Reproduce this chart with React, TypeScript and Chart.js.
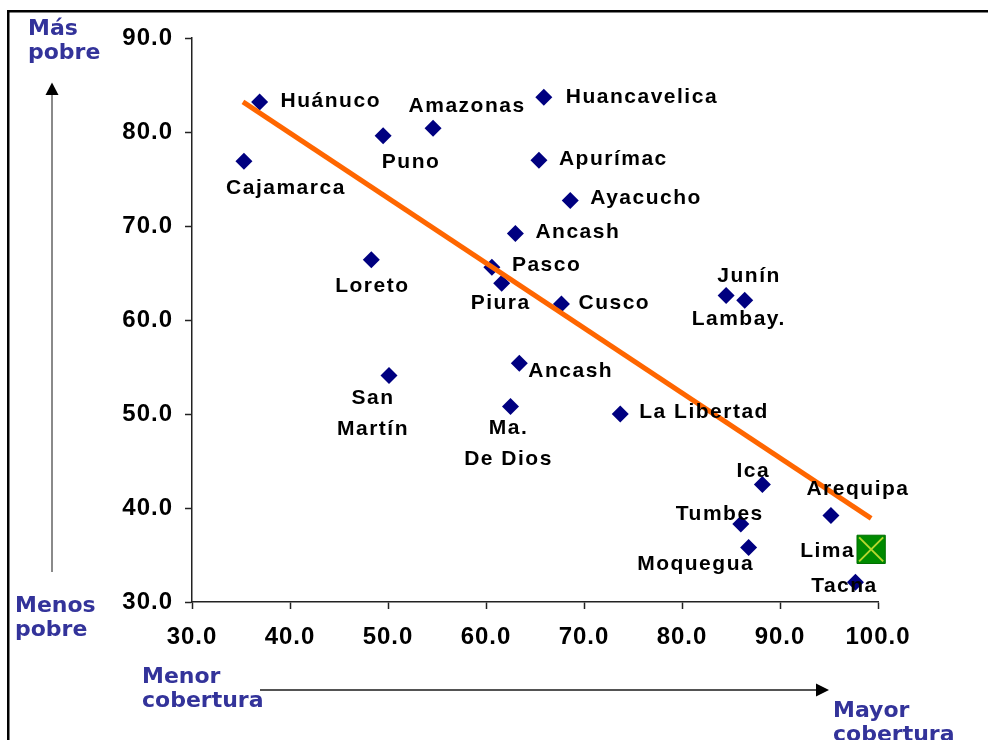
import React, { useEffect, useRef } from 'react';
import { Chart, registerables } from 'chart.js';

Chart.register(...registerables);

// ---- Data ----
const regions = [
  'Huánuco', 'Cajamarca', 'Puno', 'Amazonas', 'Loreto', 'Huancavelica', 'Apurímac',
  'Ayacucho', 'Ancash', 'Pasco', 'Piura', 'Cusco', 'Ancash', 'Ma.\nDe Dios', 'San\nMartín',
  'La Libertad', 'Junín', 'Lambay.', 'Ica', 'Arequipa', 'Tumbes', 'Moquegua', 'Tacna',
];
const coverage = [
  36.9, 35.3, 49.5, 54.6, 48.3, 65.9, 65.4,
  68.6, 63.0, 60.6, 61.6, 67.7, 63.4, 62.5, 50.1,
  73.7, 84.5, 86.4, 88.2, 95.2, 86.0, 86.8, 97.7,
];
const poverty = [
  83.2, 76.9, 79.6, 80.4, 66.4, 83.7, 77.0,
  72.7, 69.2, 65.6, 63.9, 61.7, 55.4, 50.8, 54.1,
  50.0, 62.6, 62.1, 42.5, 39.2, 38.3, 35.8, 32.1,
];
const limaName = 'Lima';
const limaCoverage = [99.3];
const limaPoverty = [35.6];
const trendCoverage = [35.2, 99.3];
const trendPoverty = [83.2, 38.9];
const xMin = 30, xMax = 100, yMin = 30, yMax = 90, tickStep = 10;

// ---- Label placement (style, kept apart from data): [dx, dy, align] ----
const labelOffsets: [number, number, CanvasTextAlign][] = [
  [21, -1, 'left'], [42, 27, 'center'], [28, 26, 'center'], [34, -22, 'center'], [1, 26, 'center'],
  [22, 0, 'left'], [20, -1, 'left'], [20, -2, 'left'], [20, -1, 'left'], [20, -2, 'left'],
  [-1, 20, 'center'], [17, -1, 'left'], [9, 8, 'left'], [-2, 22, 'center'], [-16, 23, 'center'],
  [19, -2, 'left'], [23, -19, 'center'], [-6, 19, 'center'], [-9, -13, 'center'], [27, -26, 'center'],
  [-21, -10, 'center'], [-53, 17, 'center'], [-11, 4, 'center'],
];
const limaOffset: [number, number, CanvasTextAlign] = [-16, 2, 'right'];

const BLUE = '#33339a';
const LABEL_FONT = 'bold 21px "Liberation Sans", Arial, sans-serif';
const BLUE_FONT = 'bold 22px "DejaVu Sans", Verdana, sans-serif';

const decorPlugin = {
  id: 'decor',
  beforeDraw(chart: any) {
    chart.ctx.letterSpacing = '1px';
  },
  afterDatasetsDraw(chart: any) {
    const ctx: CanvasRenderingContext2D = chart.ctx;
    ctx.save();
    ctx.font = LABEL_FONT;
    (ctx as any).letterSpacing = '1.5px';
    ctx.fillStyle = '#000';
    ctx.textBaseline = 'middle';
    const meta = chart.getDatasetMeta(1);
    regions.forEach((name, i) => {
      const pt = meta.data[i];
      if (!pt) return;
      const [dx, dy, align] = labelOffsets[i];
      ctx.textAlign = align;
      name.split('\n').forEach((line, j) => {
        ctx.fillText(line, pt.x + dx, pt.y + dy + j * 31);
      });
    });
    const lm = chart.getDatasetMeta(2).data[0];
    if (lm) {
      ctx.textAlign = limaOffset[2];
      ctx.fillText(limaName, lm.x + limaOffset[0], lm.y + limaOffset[1]);
    }
    ctx.restore();
  },
  afterDraw(chart: any) {
    const ctx: CanvasRenderingContext2D = chart.ctx;
    ctx.save();
    (ctx as any).letterSpacing = '0px';
    // frame (top and left)
    ctx.fillStyle = '#000';
    ctx.fillRect(7, 10, 988 - 7, 2.5);
    ctx.fillRect(7, 10, 2.5, 740 - 10);

    // vertical arrow
    ctx.strokeStyle = '#8a8a8a';
    ctx.lineWidth = 2;
    ctx.beginPath();
    ctx.moveTo(52, 94);
    ctx.lineTo(52, 572);
    ctx.stroke();
    ctx.fillStyle = '#000';
    ctx.beginPath();
    ctx.moveTo(52, 82.5);
    ctx.lineTo(45.5, 95);
    ctx.lineTo(58.5, 95);
    ctx.closePath();
    ctx.fill();

    // horizontal arrow
    ctx.strokeStyle = '#1a1a1a';
    ctx.lineWidth = 1.5;
    ctx.beginPath();
    ctx.moveTo(260, 690);
    ctx.lineTo(818, 690);
    ctx.stroke();
    ctx.beginPath();
    ctx.moveTo(829, 690);
    ctx.lineTo(816, 683.5);
    ctx.lineTo(816, 696.5);
    ctx.closePath();
    ctx.fill();

    // blue annotations
    ctx.fillStyle = BLUE;
    ctx.font = BLUE_FONT;
    ctx.textAlign = 'left';
    ctx.textBaseline = 'alphabetic';
    ctx.fillText('Más', 28, 35);
    ctx.fillText('pobre', 28, 59);
    ctx.fillText('Menos', 15, 612);
    ctx.fillText('pobre', 15, 636);
    ctx.fillText('Menor', 142, 683);
    ctx.fillText('cobertura', 142, 707);
    ctx.fillText('Mayor', 833, 717);
    ctx.fillText('cobertura', 833, 741);
    ctx.restore();
  },
};

export default function App() {
  const canvasRef = useRef<HTMLCanvasElement>(null);

  useEffect(() => {
    if (!canvasRef.current) return;
    const pts = coverage.map((x, i) => ({ x, y: poverty[i] }));
    const lima = limaCoverage.map((x, i) => ({ x, y: limaPoverty[i] }));
    const trend = trendCoverage.map((x, i) => ({ x, y: trendPoverty[i] }));
    const axisColor = '#222';
    const tickFont = { family: '"Liberation Sans", Arial, sans-serif', size: 24, weight: 'bold' as const };

    const chart = new Chart(canvasRef.current, {
      type: 'scatter',
      data: {
        datasets: [
          {
            type: 'line',
            data: trend,
            borderColor: '#FF6600',
            borderWidth: 5,
            pointRadius: 0,
            borderCapStyle: 'butt',
            fill: false,
            clip: false,
            order: 0,
          } as any,
          {
            data: pts,
            pointStyle: 'rectRot',
            pointRadius: 8.5,
            backgroundColor: '#000080',
            borderColor: '#000080',
            borderWidth: 0,
            clip: false,
            order: 2,
          } as any,
          {
            data: lima,
            pointStyle: 'rect',
            pointRadius: 20,
            backgroundColor: '#008a00',
            borderColor: '#007000',
            borderWidth: 1,
            clip: false,
            order: 1,
          } as any,
          {
            data: lima,
            pointStyle: 'crossRot',
            pointRadius: 17,
            backgroundColor: '#b5d62e',
            borderColor: '#b5d62e',
            borderWidth: 2,
            clip: false,
            order: 0.5,
          } as any,
        ],
      },
      options: {
        animation: false,
        responsive: false,
        devicePixelRatio: 1,
        layout: { padding: { top: 38, right: 110, left: 0, bottom: 0 } },
        plugins: {
          legend: { display: false },
          tooltip: { enabled: false },
          title: { display: false },
        },
        scales: {
          x: {
            type: 'linear',
            min: xMin,
            max: xMax,
            afterFit: (s: any) => { s.height = 138; },
            ticks: {
              stepSize: tickStep,
              color: '#000',
              font: tickFont,
              padding: 14,
              maxRotation: 0,
              callback: (v: any) => Number(v).toFixed(1),
            },
            grid: { drawOnChartArea: false, drawTicks: true, tickLength: 7, tickColor: axisColor, tickWidth: 1.5 },
            border: { display: true, color: axisColor, width: 1.5 },
          },
          y: {
            type: 'linear',
            min: yMin,
            max: yMax,
            afterFit: (s: any) => { s.width = 192; },
            ticks: {
              stepSize: tickStep,
              color: '#000',
              font: tickFont,
              padding: 12,
              callback: (v: any) => Number(v).toFixed(1),
            },
            grid: { drawOnChartArea: false, drawTicks: true, tickLength: 7, tickColor: axisColor, tickWidth: 1.5 },
            border: { display: true, color: axisColor, width: 1.5 },
          },
        },
      },
      plugins: [decorPlugin],
    });
    return () => chart.destroy();
  }, []);

  return (
    <div style={{ position: 'absolute', left: 0, top: 0, width: 988, height: 740, background: '#fff' }}>
      <canvas ref={canvasRef} width={988} height={740} style={{ width: 988, height: 740, display: 'block' }} />
    </div>
  );
}
